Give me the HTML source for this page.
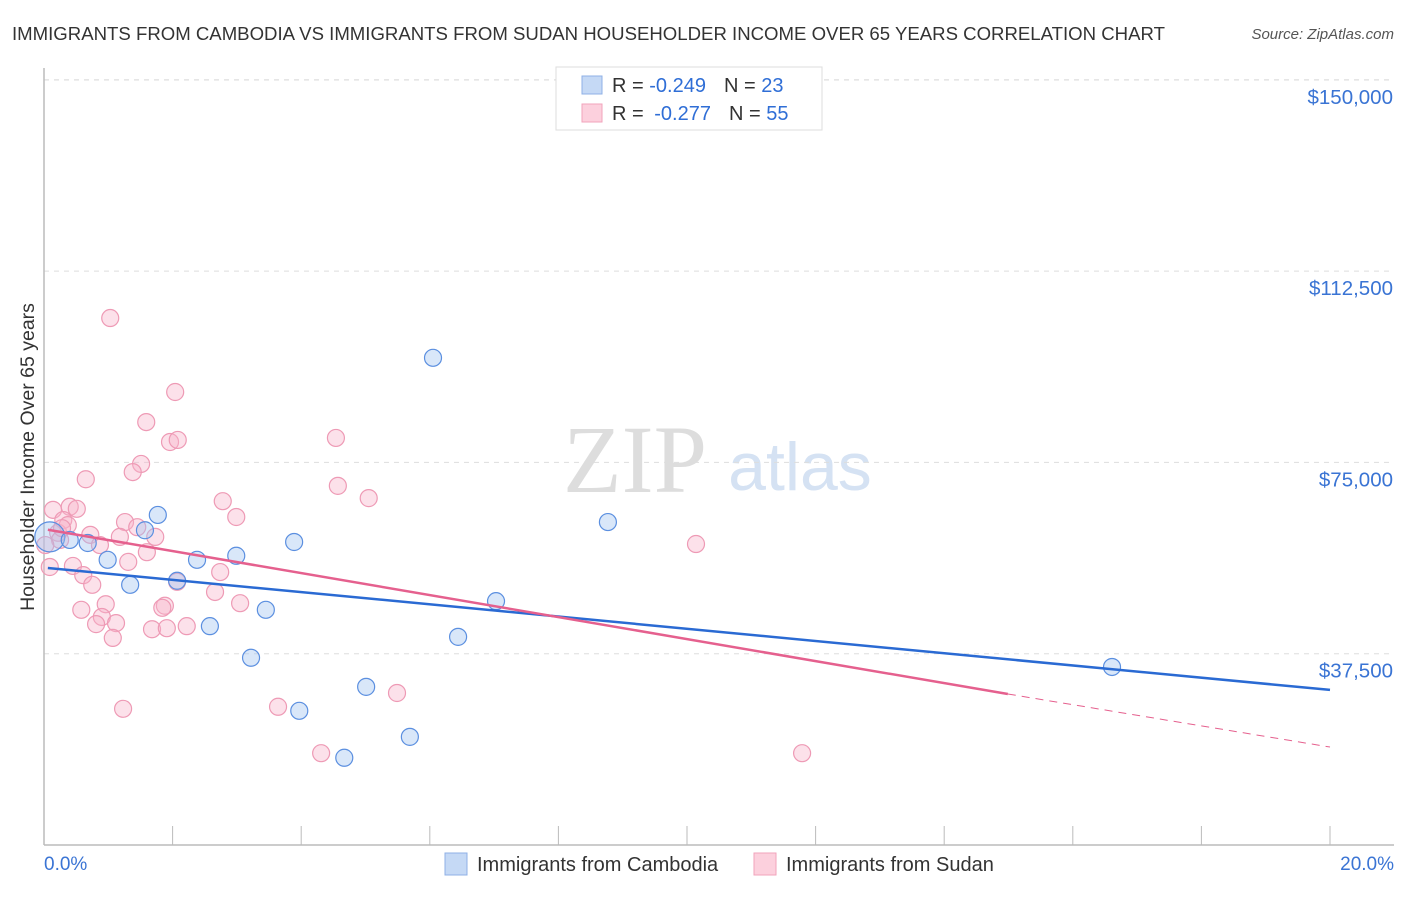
<!DOCTYPE html>
<html><head><meta charset="utf-8"><style>
body{margin:0;background:#fff;font-family:"Liberation Sans",sans-serif}
</style></head><body>
<svg width="1406" height="892" xmlns="http://www.w3.org/2000/svg">
<text x="12" y="40" font-size="18.6" fill="#333">IMMIGRANTS FROM CAMBODIA VS IMMIGRANTS FROM SUDAN HOUSEHOLDER INCOME OVER 65 YEARS CORRELATION CHART</text>
<text x="1394" y="39" font-size="15" fill="#555" font-style="italic" text-anchor="end">Source: ZipAtlas.com</text>
<text x="635" y="492" font-size="96" fill="#ddd" text-anchor="middle" font-family="Liberation Serif,serif">ZIP</text>
<text x="800" y="490" font-size="68" fill="#d5e2f3" text-anchor="middle">atlas</text>
<g id="grid"></g><g id="axes"></g><g id="pts"></g><g id="lines"></g>
<text transform="translate(34,457) rotate(-90)" font-size="19.5" fill="#333" text-anchor="middle">Householder Income Over 65 years</text>
<g>
<rect x="556" y="67" width="266" height="63" fill="#fff" stroke="#ddd"/>
<rect x="582" y="76" width="20" height="18" fill="#c5d9f5" stroke="#8fb0e6"/>
<rect x="582" y="104" width="20" height="18" fill="#fcd0dd" stroke="#f2a3bb"/>
<text x="612" y="92" font-size="20" fill="#333">R = <tspan fill="#2f6ed6">-0.249</tspan><tspan dx="18">N = </tspan><tspan fill="#2f6ed6">23</tspan></text>
<text x="612" y="120" font-size="20" fill="#333">R = <tspan dx="5" fill="#2f6ed6">-0.277</tspan><tspan dx="18">N = </tspan><tspan fill="#2f6ed6">55</tspan></text>
</g>
<g>
<rect x="445" y="853" width="22" height="22" fill="#c5d9f5" stroke="#8fb0e6"/>
<text x="477" y="871" font-size="20" fill="#333">Immigrants from Cambodia</text>
<rect x="754" y="853" width="22" height="22" fill="#fcd0dd" stroke="#f2a3bb"/>
<text x="786" y="871" font-size="20" fill="#333">Immigrants from Sudan</text>
</g>
<text x="44" y="870" font-size="19" fill="#3a74d4">0.0%</text>
<text x="1394" y="870" font-size="19" fill="#3a74d4" text-anchor="end">20.0%</text>
</svg>
<script>
const yTicks=[37500,75000,112500,150000];
const yTickLabels=["$37,500","$75,000","$112,500","$150,000"];
const blueX=[0.09,0.40,0.68,0.99,1.34,1.57,1.77,2.07,2.38,2.58,2.99,3.22,3.45,3.89,3.97,4.67,5.01,5.69,6.05,6.44,7.03,8.77,16.61];
const blueY=[60.4,59.8,59.2,55.9,51.0,61.7,64.7,51.8,55.9,42.9,56.7,36.7,46.1,59.4,26.3,17.1,31.0,21.2,95.5,40.8,47.8,63.3,34.9];
const pinkX=[1.03,2.04,1.59,1.96,2.08,4.54,1.51,1.38,0.65,4.57,5.05,2.78,2.99,0.14,0.40,0.51,1.26,1.45,1.73,1.18,0.72,0.30,0.22,0.87,1.60,1.31,0.45,0.09,0.61,2.74,0.75,2.66,2.07,3.05,1.88,1.84,0.96,0.58,0.90,1.12,0.81,1.07,1.68,1.91,2.22,1.23,3.64,4.31,5.49,10.14,11.79,0.25,0.37,0.02,0.28];
const pinkY=[103.3,88.8,82.9,79.0,79.4,79.8,74.7,73.1,71.7,70.4,68.0,67.4,64.3,65.7,66.3,65.9,63.3,62.3,60.4,60.4,60.8,63.7,61.2,58.8,57.4,55.5,54.7,54.5,52.9,53.5,51.0,49.6,51.6,47.4,46.9,46.5,47.2,46.1,44.7,43.5,43.3,40.6,42.3,42.5,42.9,26.7,27.1,18.0,29.8,59.0,18.0,59.8,62.7,58.8,62.1];
const blueTrendX=[0.06,20];const blueTrendY=[54.3,30.4];
const pinkTrendX=[0.06,14.99,20];const pinkTrendY=[61.8,29.6,19.2];
const NS="http://www.w3.org/2000/svg";
const xs=v=>44+v/20*1286;
const ys=v=>845-v/37500*191.3;
const yk=v=>ys(v*1000);
function mk(p,t,a){const e=document.createElementNS(NS,t);for(const k in a)e.setAttribute(k,a[k]);document.getElementById(p).appendChild(e);return e;}
yTicks.forEach((t,i)=>{
 const l=mk('grid','line',{x1:44,x2:1394,y1:ys(t),y2:ys(t),stroke:'#ddd','stroke-dasharray':'5,5'});
 
 
 const tx=mk('grid','text',{x:1393,y:ys(t)+24,'font-size':20.5,fill:'#3a74d4','text-anchor':'end'});
 tx.textContent=yTickLabels[i];
 
 
});
const topL=mk('grid','line',{x1:44,x2:1394,y1:80,y2:80,stroke:'#ddd','stroke-dasharray':'5,5'});


const ax=mk('axes','line',{x1:44,x2:44,y1:68,y2:845,stroke:'#bbb','stroke-width':1.5});


const bx=mk('axes','line',{x1:44,x2:1394,y1:845,y2:845,stroke:'#bbb','stroke-width':1.5});


for(let i=0;i<=10;i++){const t=mk('axes','line',{x1:xs(i*2),x2:xs(i*2),y1:826,y2:845,stroke:'#bbb'});
 
 }
function pts(X,Y,fill,stroke,name){X.forEach((x,i)=>{
 const c=mk('pts','circle',{cx:xs(x),cy:yk(Y[i]),r:i===0&&name==='blue'?15:8.5,fill:fill,stroke:stroke,'stroke-width':1.2});
 
 });}
pts(pinkX,pinkY,'rgba(248,180,202,0.4)','#ee9ab5','pink');
pts(blueX,blueY,'rgba(160,195,240,0.4)','#5b8fe0','blue');
const b=mk('lines','line',{x1:xs(blueTrendX[0]),y1:yk(blueTrendY[0]),x2:xs(blueTrendX[1]),y2:yk(blueTrendY[1]),stroke:'#2a6ad3','stroke-width':2.5});


const p=mk('lines','line',{x1:xs(pinkTrendX[0]),y1:yk(pinkTrendY[0]),x2:xs(pinkTrendX[1]),y2:yk(pinkTrendY[1]),stroke:'#e5608e','stroke-width':2.5});


const pd=mk('lines','line',{x1:xs(pinkTrendX[1]),y1:yk(pinkTrendY[1]),x2:xs(pinkTrendX[2]),y2:yk(pinkTrendY[2]),stroke:'#e5608e','stroke-width':1,'stroke-dasharray':'8,6'});


</script>
</body></html>
